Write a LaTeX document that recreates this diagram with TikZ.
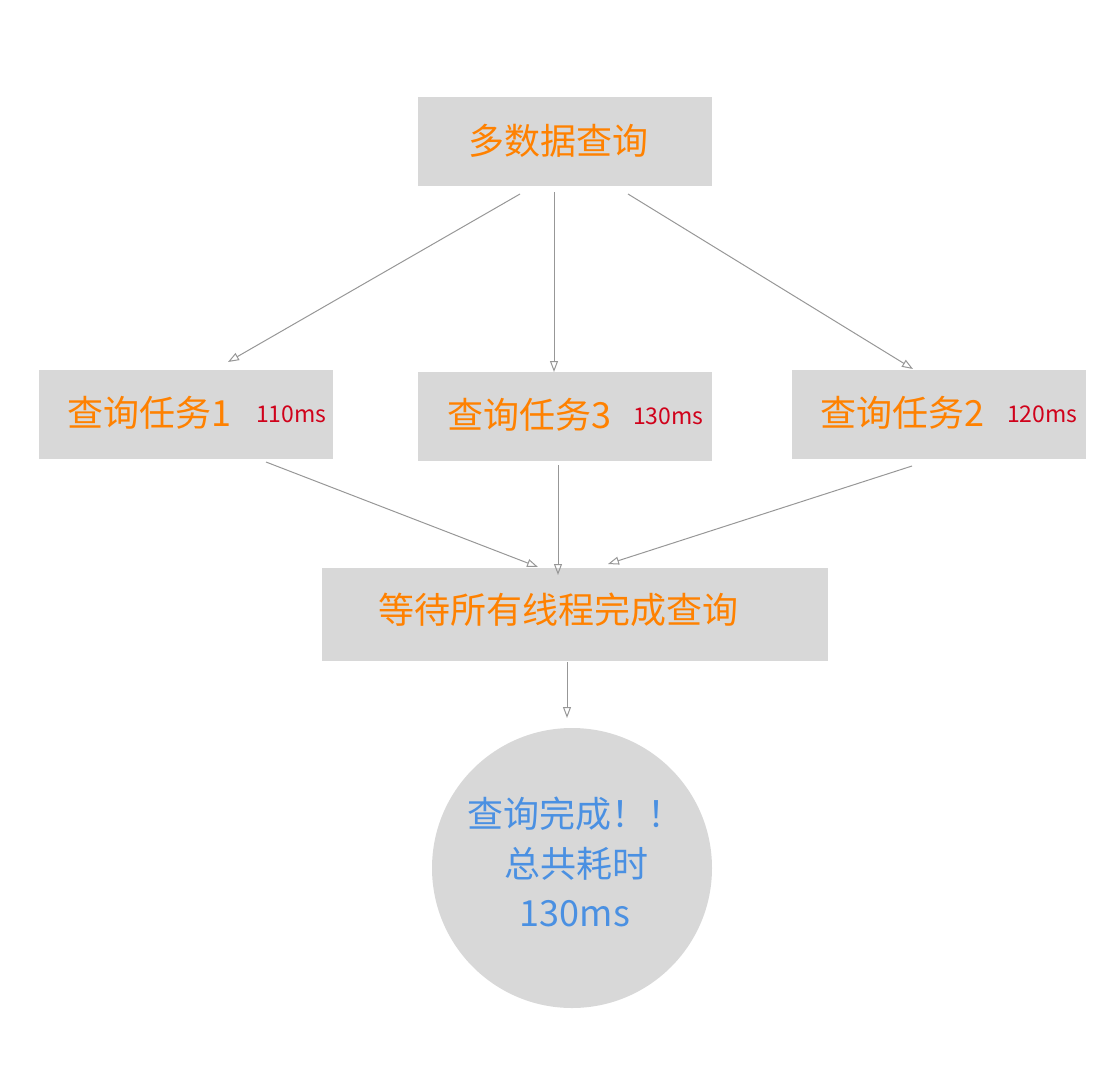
\documentclass[tikz,border=0pt]{standalone}
\usepackage{fontspec}
\setmainfont{Noto Sans CJK SC}
\usetikzlibrary{arrows.meta}
\definecolor{boxgray}{HTML}{D8D8D8}
\definecolor{txtorange}{HTML}{FF8100}
\definecolor{txtred}{HTML}{D0021B}
\definecolor{txtblue}{HTML}{4A90E2}
\definecolor{linegray}{HTML}{979797}
\begin{document}
\begin{tikzpicture}[x=1pt,y=-1pt,
  graybox/.style={fill=boxgray,draw=none,inner sep=0pt,minimum height=89pt,minimum width=294pt},
  maintext/.style={inner sep=0pt,text=txtorange,font=\fontsize{36}{40}\selectfont},
  timetext/.style={inner sep=0pt,text=txtred,font=\fontsize{23}{26}\selectfont},
  circtext/.style={inner sep=0pt,text=txtblue,font=\fontsize{36}{40}\selectfont},
  conn/.style={draw=linegray,line width=1pt,-{Triangle[open,length=11pt,width=8pt]}}]
\useasboundingbox (0,0) rectangle (1120,1072);
% boxes
\node[graybox] (top) at (565,141.5) {};
\node[graybox] (t1) at (186,414.5) {};
\node[graybox] (t3) at (565,416.5) {};
\node[graybox] (t2) at (939,414.5) {};
\node[graybox,minimum width=506pt,minimum height=93pt] (wait) at (575,614.5) {};
\node[circle,fill=boxgray,draw=none,minimum size=280pt,inner sep=0pt] (done) at (572,868) {};
% texts
\node[maintext] (toptxt) at (558,141) {多数据查询};
\node[maintext,anchor=west] (t1txt) at (67,413) {查询任务1};
\node[timetext,anchor=west] (t1time) at (256,414) {110ms};
\node[maintext,anchor=west] (t3txt) at (447,415) {查询任务3};
\node[timetext,anchor=west] (t3time) at (633,416) {130ms};
\node[maintext,anchor=west] (t2txt) at (820,413) {查询任务2};
\node[timetext,anchor=west] (t2time) at (1007,414) {120ms};
\node[maintext] (waittxt) at (558,610) {等待所有线程完成查询};
\node[circtext,anchor=west] (c1) at (467,814) {查询完成！！};
\node[circtext] (c2) at (576,864) {总共耗时};
\node[circtext] (c3) at (575,914) {130ms};
% connector endpoints
\coordinate (a1s) at (520,194); \coordinate (a1e) at (228,362);
\coordinate (a2s) at (554,192); \coordinate (a2e) at (554,372);
\coordinate (a3s) at (628,194); \coordinate (a3e) at (913,369);
\coordinate (b1s) at (266,462); \coordinate (b1e) at (538,567);
\coordinate (b2s) at (558,465); \coordinate (b2e) at (558,575);
\coordinate (b3s) at (912,466); \coordinate (b3e) at (608,564);
\coordinate (cs) at (567,662); \coordinate (ce) at (567,718);
\draw[conn] (a1s) -- (a1e);
\draw[conn] (a2s) -- (a2e);
\draw[conn] (a3s) -- (a3e);
\draw[conn] (b1s) -- (b1e);
\draw[conn] (b2s) -- (b2e);
\draw[conn] (b3s) -- (b3e);
\draw[conn] (cs) -- (ce);
\end{tikzpicture}
\end{document}
